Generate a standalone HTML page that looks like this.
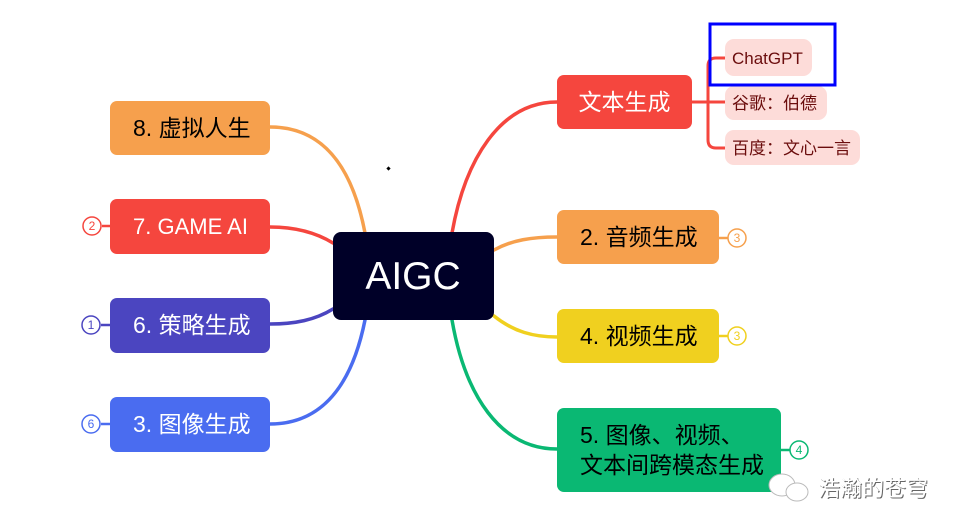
<!DOCTYPE html>
<html><head><meta charset="utf-8"><style>
html,body{margin:0;padding:0;background:#fff;width:967px;height:530px;overflow:hidden}
svg text{font-family:"Liberation Sans","Noto Sans CJK SC",sans-serif}
</style></head><body>
<svg width="967" height="530" viewBox="0 0 967 530" xmlns="http://www.w3.org/2000/svg">
<g fill="none" stroke-width="3.5" stroke-linecap="round">
<path d="M365,233 C352,165 322,127 270,127" stroke="#f6a04d"/>
<path d="M333,243 C315,232 295,227 270,227" stroke="#f5463e"/>
<path d="M333,309 C315,320 295,324 270,324" stroke="#4b45c0"/>
<path d="M365,320 C352,385 322,424 270,424" stroke="#4a6cf0"/>
<path d="M452,233 C465,160 500,102 557,102" stroke="#f5463e"/>
<path d="M494,250 C512,240 532,237 557,237" stroke="#f6a04d"/>
<path d="M494,316 C514,332 534,337 557,337" stroke="#f0d01f"/>
<path d="M452,320 C465,395 500,449 557,449" stroke="#0ab873"/>
<path d="M692,102 H725 M725,58 H716 Q708,58 708,66 V140 Q708,148 716,148 H725" stroke="#f5463e" stroke-width="3"/>
</g>
<g stroke-width="2.5"><path d="M719,238 H729" stroke="#f6a04d"/><path d="M719,336 H729" stroke="#f0d01f"/><path d="M781,450 H791" stroke="#0ab873"/><path d="M110,226 H102" stroke="#f5463e"/><path d="M110,325 H101" stroke="#4b45c0"/><path d="M110,424 H101" stroke="#4a6cf0"/></g>
<rect x="333" y="232" width="161" height="88" rx="8" fill="#000028"/>
<text x="413" y="289" font-size="39" fill="#fff" text-anchor="middle">AIGC</text>
<rect x="557" y="75" width="135" height="54" rx="7" fill="#f5463e"/>
<text x="624.5" y="110" font-size="23" fill="#fff" text-anchor="middle">文本生成</text>
<rect x="725" y="39" width="87" height="37" rx="9" fill="#fddcd9"/>
<text x="732" y="64" font-size="17" fill="#6b0d0d">ChatGPT</text>
<rect x="725" y="86" width="102" height="34" rx="9" fill="#fddcd9"/>
<text x="732" y="109" font-size="17" fill="#6b0d0d">谷歌：伯德</text>
<rect x="725" y="130" width="135" height="35" rx="9" fill="#fddcd9"/>
<text x="732" y="154" font-size="17" fill="#6b0d0d">百度：文心一言</text>
<rect x="710" y="24" width="125" height="61" fill="none" stroke="#0000ff" stroke-width="3"/>
<rect x="557" y="210" width="162" height="54" rx="7" fill="#f6a04d"/>
<text x="580" y="245" font-size="23" fill="#000">2. 音频生成</text>
<rect x="557" y="309" width="162" height="54" rx="7" fill="#f0d01f"/>
<text x="580" y="344" font-size="23" fill="#000">4. 视频生成</text>
<rect x="557" y="408" width="224" height="84" rx="7" fill="#0ab873"/>
<text x="580" y="443" font-size="23" fill="#000">5. 图像、视频、</text>
<text x="580" y="473" font-size="23" fill="#000">文本间跨模态生成</text>
<rect x="110" y="101" width="160" height="54" rx="7" fill="#f6a04d"/>
<text x="133" y="136" font-size="23" fill="#000">8. 虚拟人生</text>
<rect x="110" y="199" width="160" height="55" rx="7" fill="#f5463e"/>
<text x="133" y="234" font-size="22" fill="#fff">7. GAME AI</text>
<rect x="110" y="298" width="160" height="55" rx="7" fill="#4b45c0"/>
<text x="133" y="333" font-size="23" fill="#fff">6. 策略生成</text>
<rect x="110" y="397" width="160" height="55" rx="7" fill="#4a6cf0"/>
<text x="133" y="432" font-size="23" fill="#fff">3. 图像生成</text>
<g fill="#fff" stroke-width="1.5" font-size="12" text-anchor="middle">
<circle cx="737" cy="238" r="9" stroke="#f6a04d"/><text x="737" y="242" fill="#f6a04d" stroke="none">3</text>
<circle cx="737" cy="336" r="9" stroke="#f0d01f"/><text x="737" y="340" fill="#f0d01f" stroke="none">3</text>
<circle cx="799" cy="450" r="9" stroke="#0ab873"/><text x="799" y="454" fill="#0ab873" stroke="none">4</text>
<circle cx="92" cy="226" r="9" stroke="#f5463e"/><text x="92" y="230" fill="#f5463e" stroke="none">2</text>
<circle cx="91" cy="325" r="9" stroke="#4b45c0"/><text x="91" y="329" fill="#4b45c0" stroke="none">1</text>
<circle cx="91" cy="424" r="9" stroke="#4a6cf0"/><text x="91" y="428" fill="#4a6cf0" stroke="none">6</text>
</g>
<rect x="387" y="167" width="3" height="3" fill="#000" transform="rotate(45 388.5 168.5)"/>
<g fill="#fff" stroke="#bbb" stroke-width="1">
<ellipse cx="782" cy="485" rx="13" ry="11"/>
<ellipse cx="797" cy="492" rx="11" ry="9"/>
</g>
<text x="819" y="497" font-size="22" fill="#666">浩瀚的苍穹</text>
<text x="818" y="496" font-size="22" fill="#fff">浩瀚的苍穹</text>
</svg>
</body></html>
